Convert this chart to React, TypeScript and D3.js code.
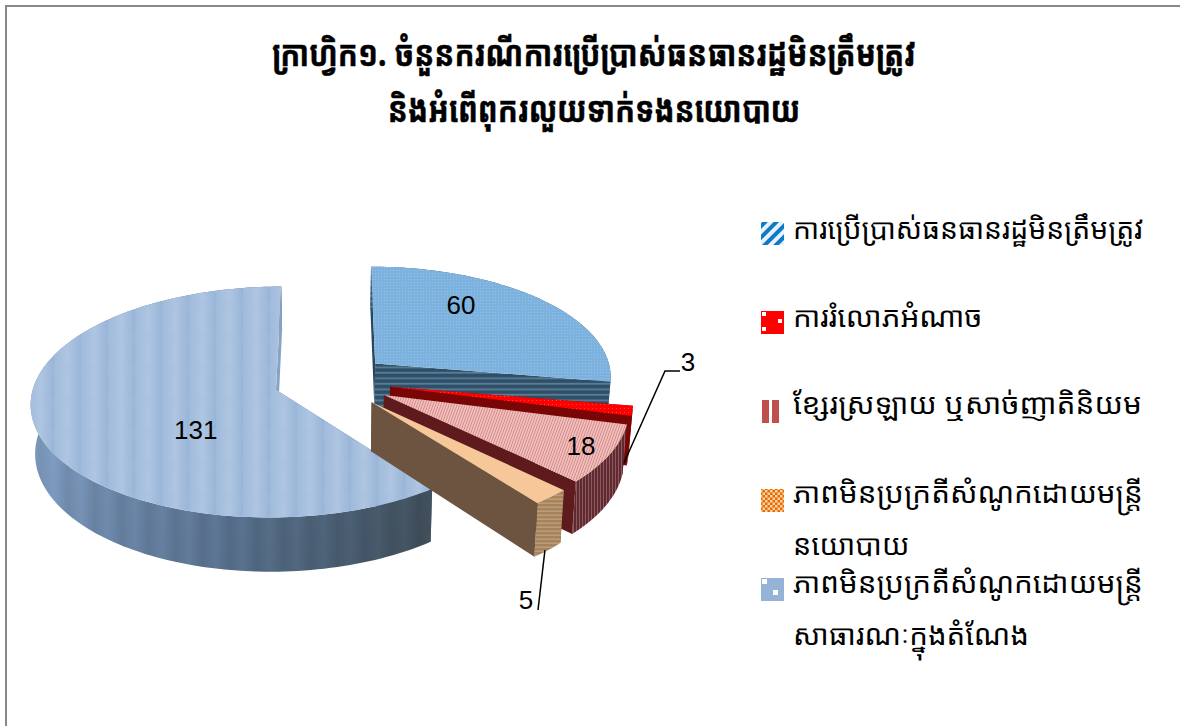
import React from "react";
import * as d3 from "d3";

const titleLines = ["ក្រាហ្វិក១. ចំនួនករណីការប្រើប្រាស់ធនធានរដ្ឋមិនត្រឹមត្រូវ", "និងអំពើពុករលួយទាក់ទងនយោបាយ"];
const categories = [
  ["ការប្រើប្រាស់ធនធានរដ្ឋមិនត្រឹមត្រូវ"],
  ["ការរំលោភអំណាច"],
  ["ខ្សែរស្រឡាយ ឬសាច់ញាតិនិយម"],
  ["ភាពមិនប្រក្រតីសំណូកដោយមន្ត្រី", "នយោបាយ"],
  ["ភាពមិនប្រក្រតីសំណូកដោយមន្ត្រី", "សាធារណៈក្នុងតំណែង"],
];
const values = [60, 3, 18, 5, 131];

const CX = 331, CY = 381, RX = 245, RY = 114, PERSP = 0.108, DEPTH = 48;
const explode = [0.24, 0.245, 0.245, 0.245, 0.235];
const radiusScale = [0.97, 0.978, 0.978, 0.978, 0.985];
const drawOrder = [0, 4, 1, 2, 3];
const labelRadius = 0.5;
const labelNudge = [[1, -25], [0, 0], [87, 22], [0, 0], [38, 22]];
const legendY = [239, 327, 414, 503, 593];
const legendStretch = [[1], [1.044], [1.055], [1.045, 1.018], [1.045, 1.04]];
const font = "'Noto Sans Khmer','Khmer OS','Noto Sans',sans-serif";

const arcs = d3.pie<number>().sort(null).startAngle(0).endAngle(2 * Math.PI)(values);

function pt(i: number, a: number, r: number, z: number): [number, number] {
  const mid = (arcs[i].startAngle + arcs[i].endAngle) / 2;
  const rr = r * radiusScale[i];
  const u = explode[i] * Math.sin(mid) + rr * Math.sin(a);
  const v = explode[i] * Math.cos(mid) + rr * Math.cos(a);
  const s = 1 / (1 + PERSP * v);
  return [CX + u * RX * s * (1 - 0.015 * z), CY - v * RY * s + z * DEPTH * s];
}
const line = d3.line();
const rim = (i: number, z: number, rev = false) => {
  const { startAngle: a0, endAngle: a1 } = arcs[i];
  const n = Math.max(4, Math.ceil((a1 - a0) * 40));
  const pts = d3.range(n + 1).map((k) => pt(i, a0 + ((a1 - a0) * k) / n, 1, z));
  return rev ? pts.reverse() : pts;
};
const topFace = (i: number) => line([pt(i, 0, 0, 0), ...rim(i, 0)]) + "Z";
const arcFace = (i: number) => line([...rim(i, 0), ...rim(i, 1, true)]) + "Z";
const radial = (i: number, a: number) => line([pt(i, a, 0, 0), pt(i, a, 1, 0), pt(i, a, 1, 1), pt(i, a, 0, 1)]) + "Z";

const styles = [
  { top: "url(#t60)", arc: "url(#s60)", start: "#27465f", end: "url(#s60)" },
  { top: "url(#t3)", arc: "#8a0505", start: "#7a0000", end: "#7a0505" },
  { top: "url(#t18)", arc: "url(#s18)", start: "#5e1a1a", end: "#5e1a1c" },
  { top: "#f6c798", arc: "url(#s5)", start: "#6b5340", end: "#6d5440" },
  { top: "url(#t131)", arc: "url(#sideBase)", start: "#5f7a9c", end: "#86a3c6" },
];

export default function App() {
  const mid = (i: number) => (arcs[i].startAngle + arcs[i].endAngle) / 2;
  const lab = (i: number) => {
    const [x, y] = pt(i, mid(i), labelRadius, 0);
    return [x + labelNudge[i][0], y + labelNudge[i][1]];
  };
  const a3 = pt(1, mid(1), 1, 1);
  const a5 = pt(3, mid(3), 1, 1);
  const leader3 = line([[a3[0] - 4, a3[1] + 3], [665, 371], [680, 371]]) as string;
  const leader5 = line([[a5[0] - 3, a5[1]], [538, 610]]) as string;
  return (
    <svg width={1180} height={726} style={{ position: "absolute", left: 0, top: 0, background: "#fff" }}>
      <defs>
        <linearGradient id="g131" x1="0" x2="1" y1="0" y2="0">
          <stop offset="0" stopColor="#9fbadb" /><stop offset=".5" stopColor="#afc6e2" /><stop offset="1" stopColor="#98b4d7" />
        </linearGradient>
        <pattern id="t131" width="27" height="32" patternUnits="userSpaceOnUse">
          <rect width="27" height="32" fill="url(#g131)" />
          <rect y="12" width="27" height="10" fill="#a5bedd" opacity=".2" />
        </pattern>
        <linearGradient id="sideBase" gradientUnits="userSpaceOnUse" x1="30" x2="430" y1="430" y2="500">
          <stop offset="0" stopColor="#86a5ca" /><stop offset=".22" stopColor="#6f8bae" />
          <stop offset=".55" stopColor="#5a7390" /><stop offset=".8" stopColor="#4c6176" /><stop offset="1" stopColor="#43525f" />
        </linearGradient>
        <linearGradient id="sideStripeG" x1="0" x2="1" y1="0" y2="0">
          <stop offset="0" stopColor="#000" stopOpacity="0" /><stop offset=".5" stopColor="#000" stopOpacity=".09" /><stop offset="1" stopColor="#000" stopOpacity="0" />
        </linearGradient>
        <pattern id="sideStripe" width="27" height="6" patternUnits="userSpaceOnUse">
          <rect width="27" height="6" fill="url(#sideStripeG)" />
        </pattern>
        <pattern id="t60" width="3" height="3" patternUnits="userSpaceOnUse">
          <rect width="3" height="3" fill="#7cb2dd" /><rect width="1" height="1" fill="#94c2e6" />
        </pattern>
        <pattern id="s60" width="6" height="5.5" patternUnits="userSpaceOnUse">
          <rect width="6" height="5.5" fill="#2f4f69" /><rect y="3.5" width="6" height="1.6" fill="#5f8299" />
        </pattern>
        <pattern id="t3" width="4" height="4" patternUnits="userSpaceOnUse">
          <rect width="4" height="4" fill="#ff0000" /><rect width="1" height="1" fill="#ff4040" />
        </pattern>
        <pattern id="t18" width="2.5" height="3" patternUnits="userSpaceOnUse" patternTransform="rotate(20)">
          <rect width="2.5" height="3" fill="#f0c0be" /><rect width="0.8" height="3" fill="#d48684" />
        </pattern>
        <pattern id="s18" width="3" height="4" patternUnits="userSpaceOnUse">
          <rect width="3" height="4" fill="#5f2a30" /><rect width="1" height="4" fill="#8e5a62" />
        </pattern>
        <pattern id="s5" width="5" height="4" patternUnits="userSpaceOnUse">
          <rect width="5" height="4" fill="#a4835e" /><rect y="2.6" width="5" height="1.2" fill="#c4a47e" />
        </pattern>
        <pattern id="k0" width="8" height="8" patternUnits="userSpaceOnUse" patternTransform="rotate(-45)">
          <rect width="8" height="8" fill="#e8f2fa" /><rect width="8" height="4" fill="#0f78c8" />
        </pattern>
        <pattern id="k3" width="5" height="5" patternUnits="userSpaceOnUse">
          <rect width="5" height="5" fill="#e86a00" /><rect width="2.5" height="2.5" fill="#f8d2a8" /><rect x="2.5" y="2.5" width="2.5" height="2.5" fill="#f8d2a8" />
        </pattern>
      </defs>

      <path d="M6 1200V6H1300" fill="none" stroke="#898989" strokeWidth={2} />

      <g fontFamily={font} fontWeight={700} fontSize={36} textAnchor="middle" fill="#000" stroke="#000" strokeWidth={0.5}>
        {titleLines.map((t, i) => (
          <text key={t} transform={`translate(594,${66 + i * 56}) scale(0.824,1)`}>{t}</text>
        ))}
      </g>

      <g>
        {drawOrder.map((i) => (
          <g key={i}>
            <path d={radial(i, arcs[i].startAngle)} fill={styles[i].start} />
            <path d={arcFace(i)} fill={styles[i].arc} />
            {i === 4 && <path d={arcFace(i)} fill="url(#sideStripe)" />}
            <path d={radial(i, arcs[i].endAngle)} fill={styles[i].end} />
            <path d={topFace(i)} fill={styles[i].top} />
          </g>
        ))}
      </g>

      <path d={leader3} fill="none" stroke="#000" strokeWidth={1.5} />
      <path d={leader5} fill="none" stroke="#000" strokeWidth={1.5} />

      <g fontFamily="'Liberation Sans',Arial,sans-serif" fontSize={26} fill="#000" textAnchor="middle">
        {[0, 4, 2].map((i) => {
          const [x, y] = lab(i);
          return <text key={i} x={x} y={y} dy=".35em">{values[i]}</text>;
        })}
        <text x={688} y={362} dy=".35em">{values[1]}</text>
        <text x={526} y={600} dy=".35em">{values[3]}</text>
      </g>

      <g>
        <rect x={761} y={222} width={23} height={23} fill="url(#k0)" />
        <rect x={761} y={311} width={23} height={23} fill="#ff0000" />
        {[[762, 312], [778, 319], [762, 327]].map(([x, y]) => <rect key={x + "," + y} x={x} y={y} width={4} height={4} fill="#fff" />)}
        <rect x={762} y={400} width={7} height={23} fill="#c0504d" />
        <rect x={772} y={400} width={7} height={23} fill="#c0504d" />
        <rect x={761} y={489} width={23} height={23} fill="url(#k3)" />
        <rect x={761} y={578} width={23} height={23} fill="#95b3d7" />
        {[[762, 579], [773, 590]].map(([x, y]) => <rect key={x + "," + y} x={x} y={y} width={5} height={5} fill="#fff" />)}
      </g>
      <g fontFamily={font} fontSize={28.3} fill="#000">
        {categories.map((lines, i) =>
          lines.map((t, j) => (
            <text key={i + "-" + j} transform={`translate(793,${legendY[i] + j * 52}) scale(${legendStretch[i][j]},1)`}>{t}</text>
          ))
        )}
      </g>
    </svg>
  );
}
